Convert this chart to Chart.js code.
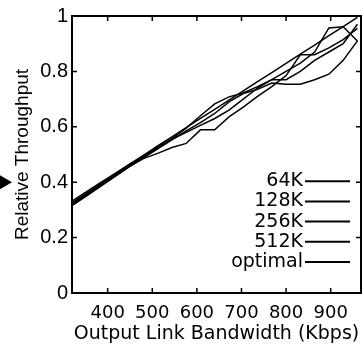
<!DOCTYPE html>
<html><head><meta charset="utf-8">
<script src="https://cdn.jsdelivr.net/npm/chart.js@4"></script>
<style>html,body{margin:0;padding:0;background:#fff}#wrap{width:362px;height:345px}</style>
</head><body><div id="wrap"><canvas id="c" width="362" height="345"></canvas></div>
<script>
const bandwidth = [320,352,384,416,448,480,512,544,576,608,640,672,704,736,768,800,832,864,896,928,960];
const seriesNames = ['64K','128K','256K','512K','optimal'];
const s64K   = [0.322,0.356,0.390,0.424,0.457,0.490,0.523,0.557,0.595,0.640,0.683,0.708,0.722,0.745,0.770,0.800,0.830,0.870,0.957,0.961,0.910];
const s128K  = [0.315,0.350,0.385,0.420,0.455,0.488,0.520,0.553,0.585,0.615,0.648,0.690,0.720,0.735,0.758,0.754,0.754,0.770,0.790,0.840,0.910];
const s256K  = [0.318,0.352,0.387,0.422,0.456,0.485,0.504,0.525,0.540,0.589,0.589,0.636,0.671,0.710,0.745,0.785,0.860,0.860,0.885,0.915,0.955];
const s512K  = [0.325,0.360,0.393,0.428,0.460,0.494,0.527,0.555,0.580,0.605,0.630,0.660,0.700,0.740,0.770,0.770,0.800,0.840,0.870,0.900,0.970];
const sOptimal = [0.332,0.365,0.398,0.431,0.464,0.497,0.531,0.564,0.597,0.630,0.663,0.696,0.730,0.763,0.796,0.829,0.862,0.895,0.929,0.962,0.995];
const xTicks = [400,500,600,700,800,900];
const yTicks = [0,0.2,0.4,0.6,0.8,1];
const xTitle = 'Output Link Bandwidth (Kbps)';
const yTitle = 'Relative Throughput';

const allSeries = [s64K, s128K, s256K, s512K, sOptimal];
const datasets = allSeries.map((s, i) => ({
  label: seriesNames[i],
  data: s.map((v, j) => ({x: bandwidth[j], y: v})),
  borderColor: '#000', borderWidth: 1.5, pointRadius: 0, tension: 0, fill: false
}));

const frame = {
  id: 'frame',
  afterDatasetsDraw(chart) {
    const {ctx, chartArea: a, scales: {x, y}} = chart;
    ctx.save();
    ctx.strokeStyle = '#000';
    ctx.lineWidth = 2;
    ctx.strokeRect(a.left, a.top, a.right - a.left, a.bottom - a.top);
    ctx.lineWidth = 1.5;
    const tl = 5;
    ctx.beginPath();
    xTicks.forEach(v => {
      const px = x.getPixelForValue(v);
      ctx.moveTo(px, a.bottom); ctx.lineTo(px, a.bottom - tl);
      ctx.moveTo(px, a.top); ctx.lineTo(px, a.top + tl);
    });
    yTicks.forEach(v => {
      const py = y.getPixelForValue(v);
      ctx.moveTo(a.left, py); ctx.lineTo(a.left + tl, py);
      ctx.moveTo(a.right, py); ctx.lineTo(a.right - tl, py);
    });
    ctx.stroke();
    // legend
    ctx.font = '19px "DejaVu Sans"';
    ctx.fillStyle = '#000';
    ctx.textAlign = 'right';
    ctx.textBaseline = 'middle';
    const tx = a.right - 58, l0 = a.right - 56, l1 = a.right - 11;
    chart.data.datasets.forEach((d, i) => {
      const yy = y.getPixelForValue(0.4) - 1 + i * 20.2;
      ctx.fillText(d.label, tx, yy);
      ctx.lineWidth = 2;
      ctx.beginPath(); ctx.moveTo(l0, yy); ctx.lineTo(l1, yy); ctx.stroke();
    });
    // side marker
    const my = y.getPixelForValue(0.4);
    ctx.beginPath(); ctx.moveTo(0, my - 7); ctx.lineTo(12, my); ctx.lineTo(0, my + 7); ctx.closePath(); ctx.fill();
    ctx.restore();
  }
};

new Chart(document.getElementById('c'), {
  type: 'line',
  data: { datasets },
  options: {
    responsive: false, animation: false, devicePixelRatio: 1,
    layout: { padding: { top: 13, right: 1, left: 0, bottom: 0 } },
    plugins: { legend: { display: false }, tooltip: { enabled: false } },
    scales: {
      x: {
        type: 'linear', min: 320, max: 968,
        afterBuildTicks: s => { s.ticks = xTicks.map(v => ({value: v})); },
        afterFit: s => { s.height = 52; },
        grid: { display: false, drawTicks: false },
        border: { display: false },
        ticks: { color: '#000', font: { family: 'DejaVu Sans', size: 18 }, padding: 10, maxRotation: 0, autoSkip: false },
        title: { display: true, text: xTitle, color: '#000', font: { family: 'DejaVu Sans', size: 19 }, padding: { top: 0, bottom: 0 } }
      },
      y: {
        type: 'linear', min: 0, max: 1,
        afterBuildTicks: s => { s.ticks = yTicks.map(v => ({value: v})); },
        afterFit: s => { s.width = 72; },
        grid: { display: false, drawTicks: false },
        border: { display: false },
        ticks: { color: '#000', font: { family: 'Liberation Sans', size: 20 }, padding: 4, callback: v => String(v) },
        title: { display: true, text: yTitle, color: '#000', font: { family: 'Liberation Sans', size: 19 }, padding: { top: 11, bottom: 0 } }
      }
    }
  },
  plugins: [frame]
});
</script></body></html>
